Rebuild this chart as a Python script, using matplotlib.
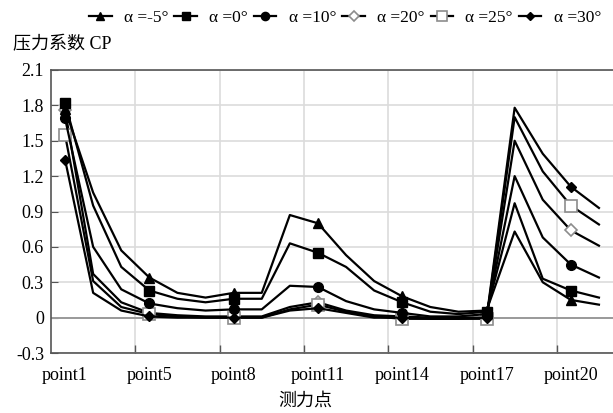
import matplotlib
matplotlib.use('Agg')
import matplotlib.pyplot as plt
import numpy as np

plt.rcParams['font.family'] = ['Liberation Serif', 'Noto Sans CJK SC']

categories = ['point1', 'point2', 'point3', 'point5', 'point6', 'point7', 'point8',
              'point9', 'point10', 'point11', 'point12', 'point13', 'point14',
              'point15', 'point16', 'point17', 'point18', 'point19', 'point20', 'point21']

cp_m5 = [1.77, 1.06, 0.57, 0.34, 0.21, 0.17, 0.21, 0.21, 0.87, 0.80,
         0.53, 0.31, 0.18, 0.09, 0.05, 0.06, 0.73, 0.30, 0.15, 0.11]
cp_0 = [1.82, 0.95, 0.43, 0.23, 0.16, 0.13, 0.16, 0.16, 0.63, 0.55,
        0.43, 0.23, 0.13, 0.05, 0.03, 0.05, 0.97, 0.33, 0.23, 0.17]
cp_10 = [1.69, 0.60, 0.24, 0.12, 0.08, 0.06, 0.07, 0.07, 0.27, 0.26,
         0.14, 0.07, 0.04, 0.01, 0.01, 0.03, 1.20, 0.68, 0.45, 0.34]
cp_20 = [1.76, 0.37, 0.13, 0.04, 0.02, 0.01, 0.01, 0.01, 0.09, 0.13,
         0.06, 0.02, 0.01, 0.00, 0.00, 0.00, 1.50, 1.00, 0.74, 0.61]
cp_25 = [1.55, 0.31, 0.09, 0.03, 0.01, 0.00, 0.00, 0.00, 0.07, 0.11,
         0.05, 0.01, -0.01, -0.01, -0.01, -0.01, 1.70, 1.24, 0.95, 0.79]
cp_30 = [1.34, 0.21, 0.06, 0.01, 0.00, 0.00, 0.00, 0.00, 0.06, 0.08,
         0.04, 0.00, 0.00, -0.01, -0.01, 0.00, 1.78, 1.39, 1.11, 0.93]

series_labels = ['α =-5°', 'α =0°', 'α =10°', 'α =20°', 'α =25°', 'α =30°']
y_ticks = [-0.3, 0, 0.3, 0.6, 0.9, 1.2, 1.5, 1.8, 2.1]
y_tick_labels = ['-0.3', '0', '0.3', '0.6', '0.9', '1.2', '1.5', '1.8', '2.1']

W, H = 613, 413
fig = plt.figure(figsize=(W / 100, H / 100), dpi=100)
ax = fig.add_axes([51 / W, 1 - 353 / H, 562 / W, 283 / H])

x = np.arange(len(categories))
styles = [
    dict(marker='^', mfc='black', mec='black', ms=7, zorder=4),
    dict(marker='s', mfc='black', mec='black', ms=7, zorder=4),
    dict(marker='o', mfc='black', mec='black', ms=7, zorder=4),
    dict(marker='D', mfc='white', mec='#8c8c8c', ms=6, mew=1.2, zorder=3),
    dict(marker='s', mfc='white', mec='#8c8c8c', ms=8, mew=1.2, zorder=3.5),
    dict(marker='D', mfc='black', mec='black', ms=5, zorder=4),
]
all_series = [cp_m5, cp_0, cp_10, cp_20, cp_25, cp_30]
for vals, lab, st in zip(all_series, series_labels, styles):
    ax.plot(x, vals, color='black', lw=1.6, markevery=3, label=lab, **st)

ax.set_xlim(-0.5, len(categories) - 0.5)
ax.set_ylim(-0.3, 2.1)
ax.set_yticks(y_ticks)
ax.set_yticklabels(y_tick_labels, fontsize=13)

ax.set_xticks(np.arange(2.5, len(categories) - 1, 3))
ax.set_xticklabels([])
ax.set_xticks(x[::3], minor=True)
ax.set_xticklabels(categories[::3], minor=True, fontsize=13)
ax.tick_params(axis='x', which='minor', length=0, pad=10)
ax.tick_params(axis='x', which='major', direction='in', length=6, color='#555555', width=1)
ax.tick_params(axis='y', direction='in', length=5, color='#555555', pad=5)

ax.grid(True, which='major', color='#dcdcdc', lw=1.2, zorder=0)
ax.set_axisbelow(True)
ax.axhline(0, color='#9a9a9a', lw=1.4, zorder=2)

for s in ['left', 'bottom', 'top']:
    ax.spines[s].set_color('#555555')
    ax.spines[s].set_linewidth(1.2)
ax.spines['right'].set_visible(False)

fig.text(13 / W, 1 - 45 / H, '压力系数 CP', ha='left', va='center', fontsize=13)
fig.text(305 / W, 1 - 401 / H, '测力点', ha='center', va='center', fontsize=13)

fig.legend(loc='center', bbox_to_anchor=(345 / W, 1 - 18 / H), ncol=6, frameon=False,
           fontsize=12.5, handlelength=1.3, handletextpad=0.7, columnspacing=0.35,
           borderaxespad=0, borderpad=0, markerscale=0.85)

fig.savefig('out.png', dpi=100)
